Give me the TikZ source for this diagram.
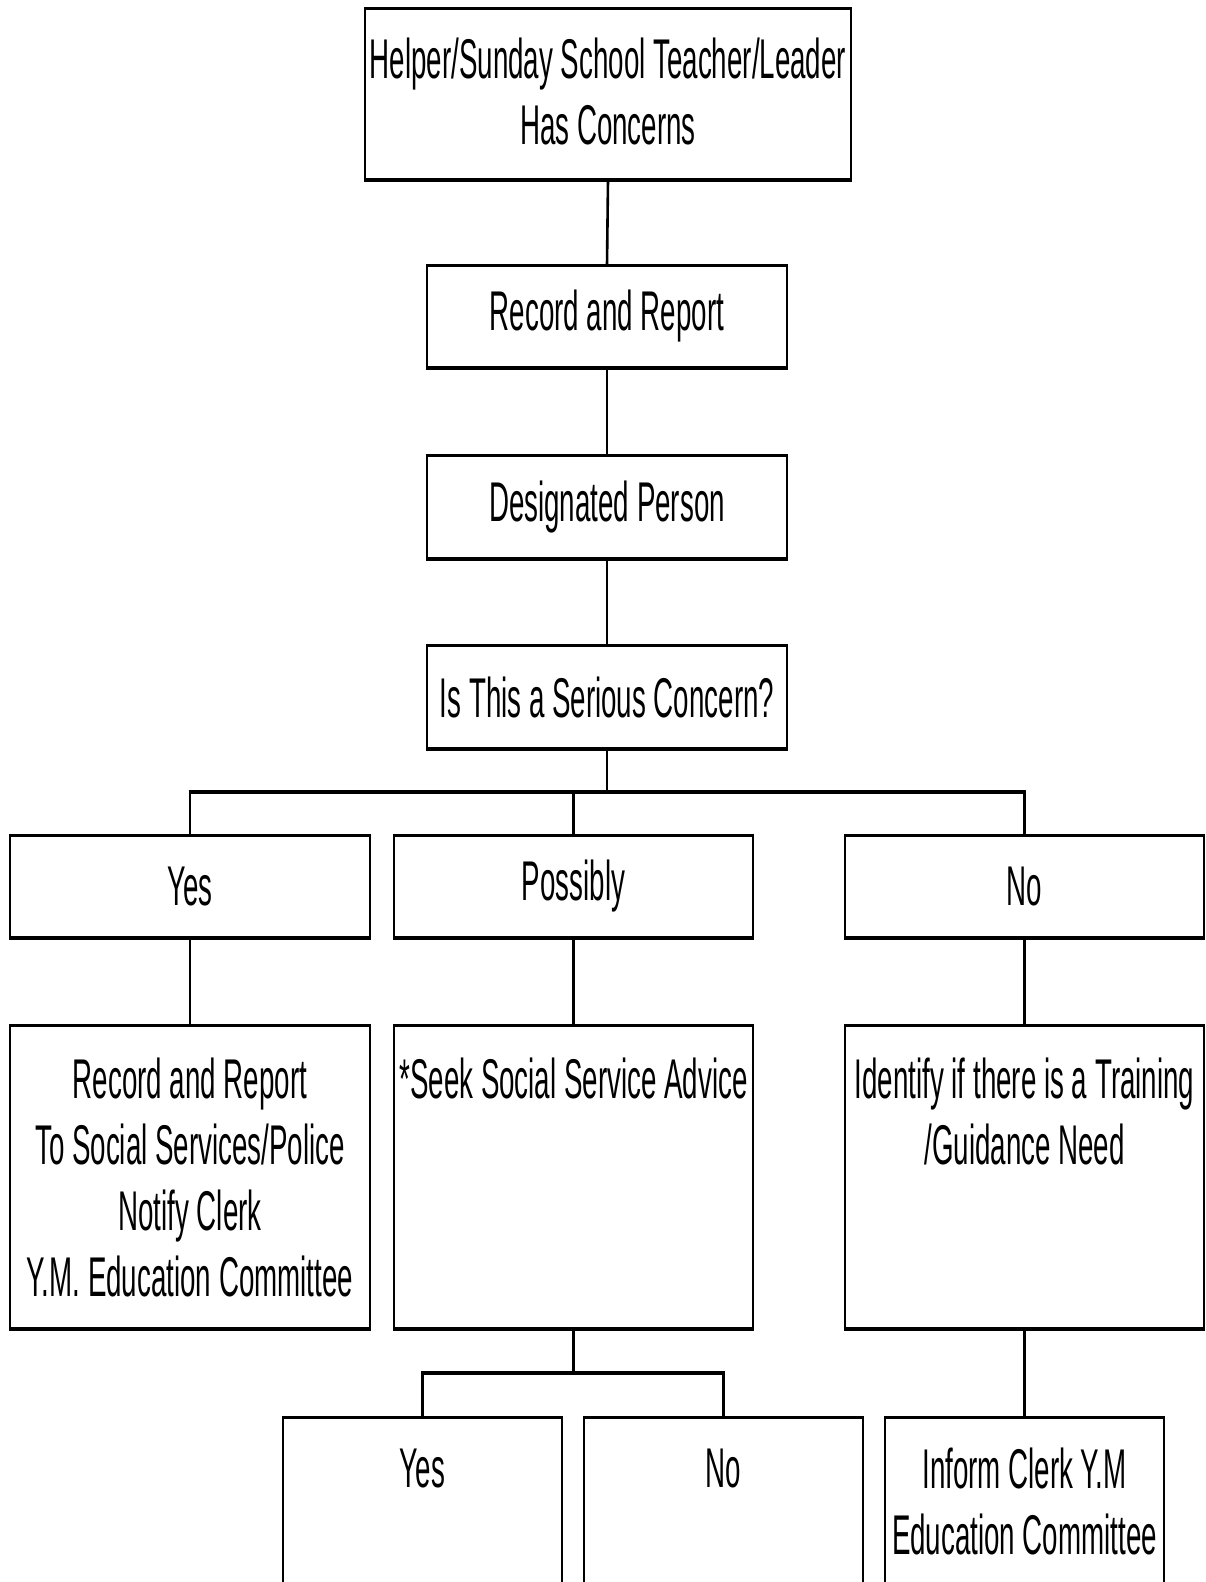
\documentclass[tikz,border=0pt]{standalone}
\usepackage{fontspec}
\setmainfont[FakeStretch=0.495]{Liberation Sans}
\begin{document}
\begin{tikzpicture}[x=1pt,y=-1pt,
  box/.style={draw, line width=1.6pt, inner sep=0pt, align=center,
    append after command={
      (\tikzlastnode.north west) edge[line width=3pt] (\tikzlastnode.north east)
      (\tikzlastnode.south west) edge[line width=3.4pt] (\tikzlastnode.south east)}},
  txt/.style={inner sep=0pt, align=center},
  conn/.style={line width=2.6pt},
  barline/.style={line width=4pt},
  every node/.style={font=\fontsize{56}{66}\selectfont}]
\useasboundingbox (0,0) rectangle (1205,1582);
\clip (0,0) rectangle (1205,1582);
\fill[white] (0,0) rectangle (1205,1582);

\node[box, minimum width=486pt, minimum height=170pt] (top) at (608,94) {};
\node[txt] (topt) at (608,91) {Helper/Sunday School Teacher/Leader\\Has Concerns};
\node[box, minimum width=360pt, minimum height=101pt] (rr) at (607,316.5) {Record and Report};
\node[box, minimum width=360pt, minimum height=102pt] (dp) at (607,507) {Designated Person};
\node[box, minimum width=360pt, minimum height=102pt] (sc) at (607,697) {Is This a Serious Concern?};

\node[box, minimum width=360pt, minimum height=101pt] (yes) at (190,886.5) {Yes};
\node[box, minimum width=359pt, minimum height=101pt] (pos) at (573.5,886.5) {Possibly};
\node[box, minimum width=359pt, minimum height=101pt] (no) at (1024.5,886.5) {No};

\node[box, minimum width=360pt, minimum height=302pt] (yesd) at (190,1177)
  {Record and Report\\To Social Services/Police\\Notify Clerk\\Y.M. Education Committee};
\node[box, minimum width=359pt, minimum height=302pt] (posd) at (573.5,1177) {};
\node[txt] (posdt) at (573.5,1078) {*Seek Social Service Advice};
\node[box, minimum width=359pt, minimum height=302pt] (nod) at (1024.5,1177) {};
\node[txt] (nodt) at (1024.5,1111) {Identify if there is a Training\\/Guidance Need};

\node[box, minimum width=279pt, minimum height=240pt] (byes) at (422.5,1538) {};
\node[txt] (byest) at (422.5,1468) {Yes};
\node[box, minimum width=279pt, minimum height=240pt] (bno) at (723.5,1538) {};
\node[txt] (bnot) at (723.5,1468) {No};
\node[box, minimum width=279pt, minimum height=240pt] (binf) at (1024.5,1538) {};
\node[txt] (binft) at (1024.5,1501) {Inform Clerk Y.M\\Education Committee};

\coordinate (b1) at (607,792);
\coordinate (b2) at (573.5,1373);

\draw[conn] (top.south) -- (rr.north);
\draw[conn] (rr.south) -- (dp.north);
\draw[conn] (dp.south) -- (sc.north);
\draw[conn] (sc.south) -- (b1);
\draw[barline] ([xshift=-1.3pt]yes.north |- b1) -- ([xshift=1.3pt]no.north |- b1);
\draw[conn] (yes.north |- b1) -- (yes.north);
\draw[conn] (pos.north |- b1) -- (pos.north);
\draw[conn] (no.north |- b1) -- (no.north);
\draw[conn] (yes.south) -- (yesd.north);
\draw[conn] (pos.south) -- (posd.north);
\draw[conn] (no.south) -- (nod.north);
\draw[conn] (posd.south) -- (b2);
\draw[barline] ([xshift=-1.3pt]byes.north |- b2) -- ([xshift=1.3pt]bno.north |- b2);
\draw[conn] (byes.north |- b2) -- (byes.north);
\draw[conn] (bno.north |- b2) -- (bno.north);
\draw[conn] (nod.south) -- (binf.north);
\end{tikzpicture}
\end{document}
